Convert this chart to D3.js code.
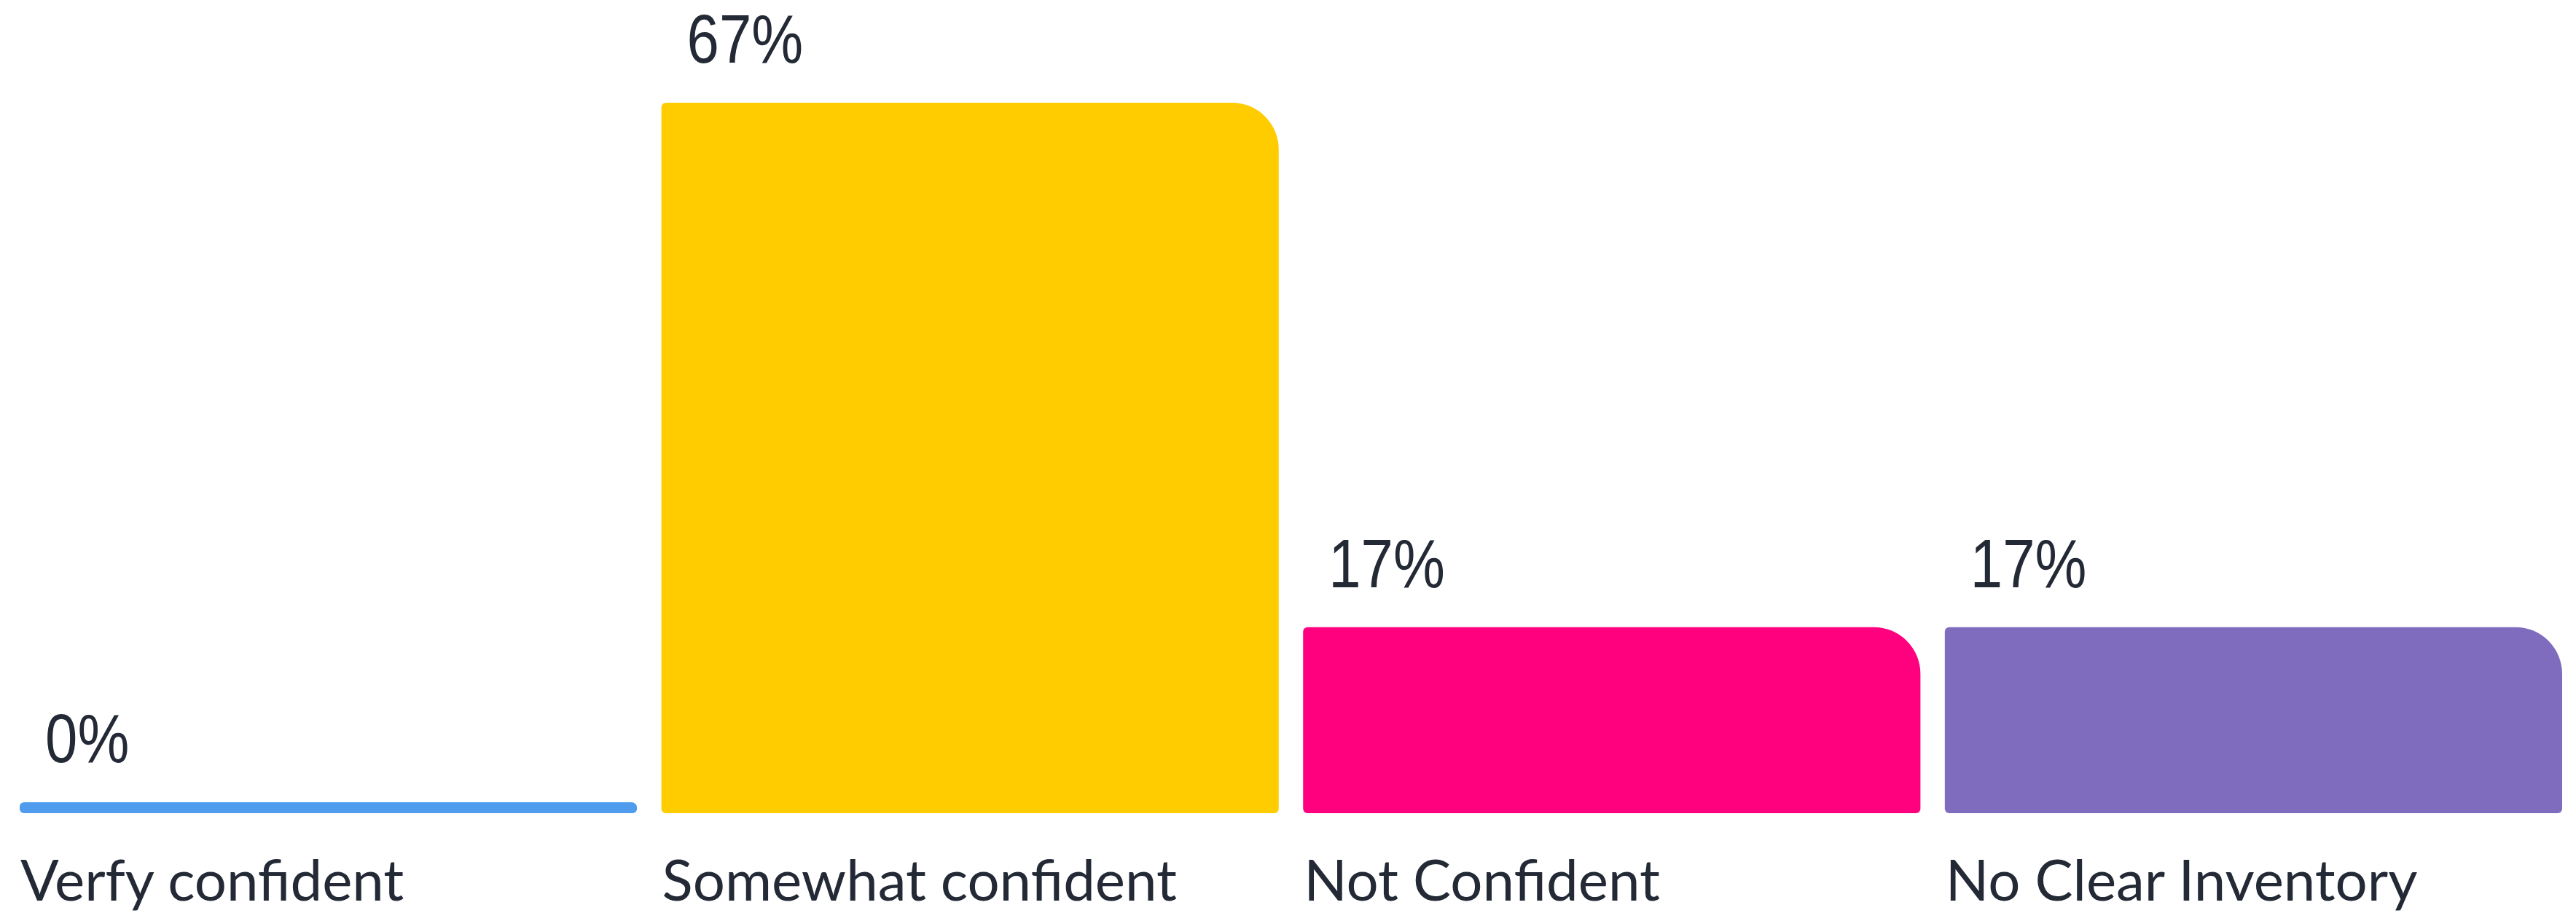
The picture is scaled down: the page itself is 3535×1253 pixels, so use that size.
<!DOCTYPE html>
<html>
<head>
<meta charset="utf-8">
<script src="https://cdn.jsdelivr.net/npm/d3@7"></script>
<style>
  html, body { margin: 0; padding: 0; background: #ffffff; }
  svg { display: block; }
</style>
</head>
<body>
<script>
// ---- data ----
const categories = ["Verfy confident", "Somewhat confident", "Not Confident", "No Clear Inventory"];
const values = [0, 66.7, 16.7, 16.7];
const colors = ["#4F9BEE", "#FFCC00", "#FF007F", "#7F6CBE"];

// ---- layout ----
const W = 3535, H = 1253;
const baseY = 1116;      // bottom of bars
const minH = 15;         // bars keep a minimum visible height
const topY = 141;

const svg = d3.select("body").append("svg").attr("width", W).attr("height", H);

const x = d3.scaleBand().domain(categories).range([27, 3516]).paddingInner(0.038).paddingOuter(0);
const y = d3.scaleLinear().domain([0, d3.max(values)]).range([baseY - minH, topY]);

function barPath(x0, y0, w, h, rTR, r) {
  const tr = Math.min(rTR, h / 2, w / 2);
  const o = Math.min(r, h / 2, w / 2);
  return `M${x0 + o},${y0}
    H${x0 + w - tr} A${tr},${tr} 0 0 1 ${x0 + w},${y0 + tr}
    V${y0 + h - o} A${o},${o} 0 0 1 ${x0 + w - o},${y0 + h}
    H${x0 + o} A${o},${o} 0 0 1 ${x0},${y0 + h - o}
    V${y0 + o} A${o},${o} 0 0 1 ${x0 + o},${y0} Z`;
}

const data = categories.map((c, i) => ({ c, v: values[i], color: colors[i] }));

svg.selectAll("path.bar").data(data).join("path")
  .attr("class", "bar")
  .attr("fill", d => d.color)
  .attr("d", d => {
    const top = y(d.v);
    return barPath(x(d.c), top, x.bandwidth(), baseY - top, 64, 6);
  });

const fmt = d3.format(".0f");
// narrow numerals: regular sans squeezed horizontally
svg.selectAll("text.val").data(data).join("text")
  .attr("class", "val")
  .attr("transform", d => `translate(${x(d.c) + 35},${y(d.v) - 55}) scale(0.84,1)`)
  .attr("fill", "#232A36")
  .style("font-family", "'Liberation Sans', Arial, sans-serif")
  .style("font-size", "95px")
  .text(d => fmt(d.v) + "%");

svg.selectAll("text.cat").data(data).join("text")
  .attr("class", "cat")
  .attr("x", d => x(d.c) + 1)
  .attr("y", 1236)
  .attr("fill", "#232A36")
  .style("font-family", "Lato, sans-serif")
  .style("font-size", "78px")
  .text(d => d.c);
</script>
</body>
</html>
